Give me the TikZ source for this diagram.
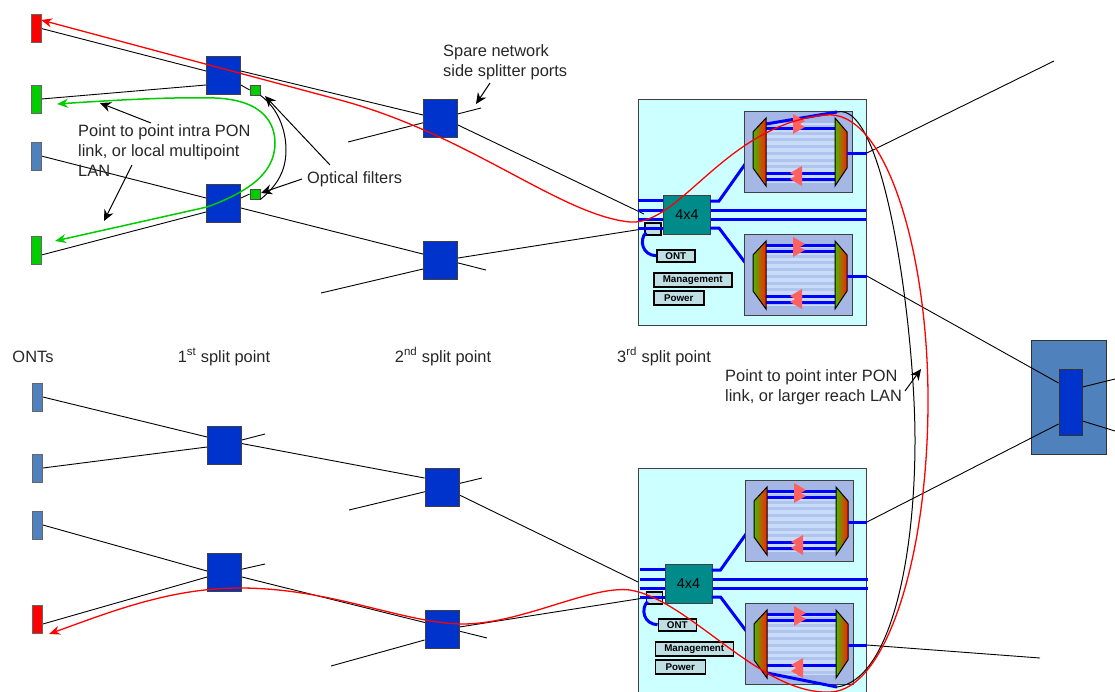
\documentclass[tikz,border=0pt]{standalone}
\usepackage{fontspec}
\setmainfont{Liberation Sans}
\usetikzlibrary{arrows.meta,calc}
\pgfdeclarelayer{bg}
\pgfsetlayers{bg,main}
\definecolor{splblue}{HTML}{0033CC}
\definecolor{ontblue}{HTML}{4F81BD}
\definecolor{ontgreen}{HTML}{00CC00}
\definecolor{cyanbox}{HTML}{CCFFFF}
\definecolor{awgbox}{HTML}{A5B8E5}
\definecolor{stripe}{HTML}{C8DCFA}
\definecolor{stripeb}{HTML}{B0C4EE}
\definecolor{teal4}{HTML}{008B8B}
\definecolor{labelbox}{HTML}{C0DFE5}
\definecolor{tri}{HTML}{FF6060}
\definecolor{greenlink}{HTML}{00CC00}
\definecolor{fibre}{HTML}{0000FF}
\definecolor{trapg}{HTML}{4CB800}
\definecolor{trapm}{HTML}{FF8A00}
\definecolor{trapr}{HTML}{FF2000}
\tikzset{
  x=1pt,y=-1pt,
  splitter/.style={draw=black!75,line width=0.9pt,fill=splblue,inner sep=0,minimum width=34pt,minimum height=38pt},
  ontbox/.style={draw=black!60,line width=0.8pt,inner sep=0,minimum width=10pt,minimum height=28pt},
  txt/.style={font=\fontsize{16.4}{20}\selectfont,inner sep=0,text=black!85,align=left},
  lnk/.style={black,line width=0.9pt},
  pointer/.style={black,line width=1pt,-{Stealth[length=11pt,width=10pt]}},
  fib/.style={fibre,line width=3pt},
  lab/.style={draw=black,line width=1.5pt,fill=labelbox,inner sep=0,font=\fontsize{9.8}{10}\bfseries\selectfont},
  trap/.style={left color=trapg,middle color=trapm,right color=trapr},
}
\newcommand\awg[3]{%
\begin{scope}[shift={#2}]
  \node[draw=black!75,line width=0.9pt,fill=awgbox,inner sep=0,minimum width=108pt,minimum height=81pt,anchor=north west] (#1) at (0,0) {};
  \fill[stripe] (22,12) rectangle (91,72);
  \foreach \i in {0,...,8} {\fill[stripeb] (22,14+6.7*\i) rectangle (91,17+6.7*\i);}
  \coordinate (#1in) at (9,42);
  \coordinate (#1out) at (103,42);
  \coordinate (#1diag) at (93,1);
  \coordinate (#1low) at (92,84);
  \ifcase#3\relax
    \draw[fib] (22,11) -- (91,11);
    \draw[fib] (22,68) -- (91,68);
  \or
    \draw[fib] (22,13) -- (#1diag);
    \draw[fib] (22,68) -- (91,68);
  \or
    \draw[fib] (22,11) -- (91,11);
    \draw[fib] (22,70) -- (#1low);
  \fi
  \draw[fib] (22,17) -- (91,17);
  \draw[fib] (22,62) -- (91,62);
  \shade[trap] (9,21) -- (22,7) -- (22,75) -- (9,57) -- cycle;
  \draw[black,line width=1pt] (9,21) -- (22,7) -- (22,75) -- (9,57) -- cycle;
  \shade[trap] (91,7) -- (103,21) -- (103,57) -- (91,75) -- cycle;
  \draw[black,line width=1pt] (91,7) -- (103,21) -- (103,57) -- (91,75) -- cycle;
  \foreach \yy in {10,16} {\fill[tri] (49,\yy-7) -- (61,\yy) -- (49,\yy+7) -- cycle;}
  \foreach \yy in {62,68} {\fill[tri] (58,\yy-7) -- (46,\yy) -- (58,\yy+7) -- cycle;}
\end{scope}}
\newcommand\ponunit[4]{%
\begin{scope}[shift={#2}]
  \draw[fib] (0,200) -- (25,200);
  \draw[fib] (0,210) -- (25,210);
  \draw[fib] (0,219) -- (25,219);
  \draw[fib] (72,210) -- (228,210);
  \draw[fib] (72,219) -- (228,219);
  \node[draw=black!75,line width=0.9pt,fill=teal4,inner sep=0,minimum width=47pt,minimum height=39pt,font=\fontsize{14.3}{16}\selectfont,anchor=north west] (#1x) at (25,195) {4x4};
  \node[draw=black,line width=1.5pt,fill=labelbox,minimum width=16pt,minimum height=12pt,inner sep=0,anchor=north west] (#1s) at (6,222) {};
  \draw[fib] (0,228) -- (25,228);
  \node[lab,minimum width=38pt,minimum height=12pt,anchor=north west] (#1o) at (18,249) {ONT};
  \node[lab,minimum width=78pt,minimum height=14pt,anchor=north west] (#1m) at (15,272) {Management};
  \node[lab,minimum width=50pt,minimum height=14pt,anchor=north west] (#1p) at (15,290) {Power};
  \draw[fib] (#1s.south west) ++(2,-3) .. controls (1,240) and (4,255) .. (#1o.west);
  \draw[fib] (72,201) -- (81,201) -- (115,153);
  \draw[fib] (72,228) -- (81,228) -- (115,273);
\end{scope}}
\begin{document}
\begin{tikzpicture}
\useasboundingbox (0,0) rectangle (1115,691);
% chassis and head-end cabinet
\begin{pgfonlayer}{bg}
  \node[draw=black!75,line width=0.9pt,fill=cyanbox,inner sep=0,minimum width=228pt,minimum height=226pt,anchor=north west] (boxT) at (638,99) {};
  \node[draw=black!75,line width=0.9pt,fill=cyanbox,inner sep=0,minimum width=228pt,minimum height=226pt,anchor=north west] (boxB) at (638,468) {};
  \node[draw=black!80,line width=0.9pt,fill=ontblue,inner sep=0,minimum width=75pt,minimum height=114pt] (olt) at (1068.5,397) {};
\end{pgfonlayer}
% ONTs
\node[ontbox,fill=red] (o1) at (36,28.5) {};
\node[ontbox,fill=ontgreen] (o2) at (36,99) {};
\node[ontbox,fill=ontblue] (o3) at (36,156) {};
\node[ontbox,fill=ontgreen] (o4) at (36,250) {};
\node[ontbox,fill=ontblue] (o5) at (37.5,397) {};
\node[ontbox,fill=ontblue] (o6) at (37.5,468) {};
\node[ontbox,fill=ontblue] (o7) at (37.5,525) {};
\node[ontbox,fill=red] (o8) at (37.5,619) {};
% splitters
\node[splitter] (s1) at (223.5,75.5) {};
\node[splitter] (s2) at (223.5,203) {};
\node[splitter] (s3) at (224.5,445) {};
\node[splitter] (s4) at (224.5,572) {};
\node[splitter] (t1) at (440.5,118) {};
\node[splitter] (t2) at (440.5,260) {};
\node[splitter] (t3) at (442,487) {};
\node[splitter] (t4) at (442,629) {};
% filters
\node[draw=black!70,line width=0.8pt,fill=ontgreen,minimum size=10pt,inner sep=0] (f1) at (255,90) {};
\node[draw=black!70,line width=0.8pt,fill=ontgreen,minimum size=10pt,inner sep=0] (f2) at (255,194) {};
% head end port
\node[draw=black!80,line width=0.9pt,fill=splblue,inner sep=0,minimum width=23pt,minimum height=66pt] (oltc) at (1070.5,402) {};
% free ends
\coordinate (e1) at (348,142);
\coordinate (e2) at (481,108);
\coordinate (e3) at (321,293);
\coordinate (e4) at (486,270);
\coordinate (e5) at (265,434);
\coordinate (e6) at (349,510);
\coordinate (e7) at (482,478);
\coordinate (e8) at (265,564);
\coordinate (e9) at (331,666);
\coordinate (e10) at (487,638);
\coordinate (e11) at (1054,61);
\coordinate (e12) at (1040,658);
\coordinate (e13) at (1115,379);
\coordinate (e14) at (1115,431);
% units
\ponunit{T}{(638,0)}{}{}
\ponunit{B}{(639.5,369)}{}{}
\awg{A}{(744,111)}{1}
\awg{C}{(744,234)}{0}
\awg{D}{(745,480)}{0}
\awg{E}{(745,603)}{2}
\draw[fib] (Aout) -- (boxT.east |- Aout);
\draw[fib] (Cout) -- (boxT.east |- Cout);
\draw[fib] (Dout) -- (boxB.east |- Dout);
\draw[fib] (Eout) -- (boxB.east |- Eout);
% connectors
\begin{pgfonlayer}{bg}
  \draw[lnk] (o1.east) -- ([yshift=4.5pt]s1.west);
  \draw[lnk] (o2.east) -- ([yshift=-9.5pt]s1.west);
  \draw[lnk] (o3.east) -- ([yshift=5pt]s2.west);
  \draw[lnk] ([yshift=-5pt]o4.east) -- ([yshift=-9pt]s2.west);
  \draw[lnk] ([yshift=4.5pt]s1.east) -- ([yshift=3pt]t1.west);
  \draw[lnk] ([yshift=-9.5pt]s1.east) -- (f1.west);
  \draw[lnk] ([yshift=5pt]s2.east) -- (f2.west);
  \draw[lnk] ([yshift=-5pt]s2.east) -- (e4);
  \draw[lnk] (e1) -- (e2);
  \draw[lnk] (e3) -- ([yshift=-9pt]t2.west);
  \draw[lnk] ([yshift=-7pt]t1.east) -- (Ts.west |- 0,214);
  \draw[lnk] ([yshift=2pt]t2.east) -- (Ts.west);
  \draw[lnk] (o5.east) -- ([yshift=8pt]s3.west);
  \draw[lnk] (o6.east) -- ([yshift=-2pt]s3.west);
  \draw[lnk] ([yshift=-4pt]s3.west) -- (e5);
  \draw[lnk] ([yshift=8pt]s3.west) -- ([yshift=9pt]t3.west);
  \draw[lnk] (e6) -- (e7);
  \draw[lnk] ([yshift=-8pt]t3.east) -- (boxB.west |- 0,582);
  \draw[lnk] (o7.east) -- ([yshift=1pt]s4.west);
  \draw[lnk] ([yshift=-5pt]o8.east) -- ([yshift=-5pt]s4.west);
  \draw[lnk] ([yshift=-5pt]s4.west) -- (e8);
  \draw[lnk] ([yshift=-5pt]s4.east) -- (e10);
  \draw[lnk] (e9) -- ([yshift=-11pt]t4.west);
  \draw[lnk] ([yshift=2pt]t4.east) -- (Bs.west);
  \draw[lnk] (boxT.east |- Aout) -- (e11);
  \draw[lnk] (boxT.east |- Cout) -- ([yshift=19pt]oltc.west);
  \draw[lnk] (boxB.east |- Dout) -- ([yshift=-22pt]oltc.west);
  \draw[lnk] (boxB.east |- Eout) -- (e12);
  \draw[lnk] ([yshift=15pt]oltc.east) -- (e13);
  \draw[lnk] ([yshift=-19pt]oltc.east) -- (e14);
\end{pgfonlayer}
% labels
\node[txt,anchor=north west] (lab1) at (78,124) {Point to point intra PON\\link, or local multipoint\\LAN};
\node[txt,anchor=north west] (lab2) at (443,44) {Spare network\\side splitter ports};
\node[txt,anchor=base west] (lab3) at (307,183) {Optical filters};
\node[txt,anchor=north west] (lab4) at (725,369) {Point to point inter PON\\link, or larger reach LAN};
\node[txt,anchor=base] (h0) at (33,362) {ONTs};
\node[txt,anchor=base] (h1) at (224,362) {1\textsuperscript{st} split point};
\node[txt,anchor=base] (h2) at (443,362) {2\textsuperscript{nd} split point};
\node[txt,anchor=base] (h3) at (664,362) {3\textsuperscript{rd} split point};
\coordinate (p1) at (151,123);
\coordinate (p1t) at (100,103);
\coordinate (p2) at (132,165);
\coordinate (p2t) at (104,221);
\coordinate (p3) at (330,165);
\coordinate (p3t) at (265,96);
\coordinate (p4) at (302,179);
\coordinate (p4t) at (261,193);
\coordinate (p5) at (490,83);
\coordinate (p5t) at (476,104);
\coordinate (p6) at (905,391);
\coordinate (p6t) at (921,369);
\draw[pointer] (p1) -- (p1t);
\draw[pointer] (p2) -- (p2t);
\draw[pointer] (p3) -- (p3t);
\draw[pointer] (p4) -- (p4t);
\draw[pointer] (p5) -- (p5t);
\draw[pointer] (p6) -- (p6t);
% filter bypass
\draw[black,line width=1pt] (f1.south east) .. controls (278,108) and (286,130) .. (286,150) .. controls (286,170) and (278,185) .. (f2.south east);
% inter-PON black link
\draw[black,line width=1pt] (Adiag) .. controls (885,100) and (915,330) .. (915,440) .. controls (915,560) and (890,680) .. (Elow);
% green link
\coordinate (g1) at (57,104);
\coordinate (g2) at (55,241);
\draw[greenlink,line width=1.5pt,{Stealth[length=11pt,width=9pt]}-{Stealth[length=11pt,width=9pt]}] (g1) .. controls (130,99) and (180,97) .. (215,98) .. controls (265,100) and (275,125) .. (275,143) .. controls (275,175) and (245,193) .. (207,207) -- (g2);
% red link
\coordinate (r1) at (41,20);
\coordinate (r2) at (49,634);
\draw[red,line width=1.3pt,{Stealth[length=11pt,width=9pt]}-{Stealth[length=11pt,width=9pt]}] (r1) -- (340,100) .. controls (470,135) and (560,215) .. (630,222) .. controls (680,226) and (725,125) .. (825,115) .. controls (885,108) and (928,250) .. (928,400) .. controls (928,560) and (885,691) .. (830,692) .. controls (760,695) and (690,600) .. (630,590) .. controls (590,585) and (520,625) .. (460,624) .. controls (400,622) and (330,588) .. (240,588) .. controls (170,588) and (110,612) .. (r2);
\end{tikzpicture}
\end{document}
